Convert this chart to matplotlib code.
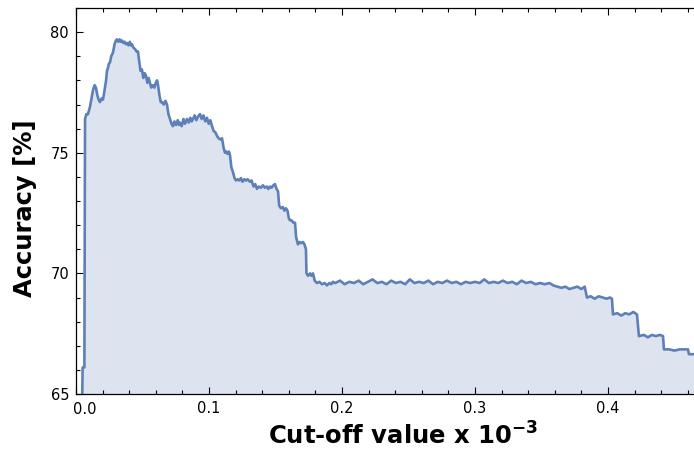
import numpy as np
import matplotlib
matplotlib.use('Agg')
import matplotlib.pyplot as plt
from matplotlib.ticker import MultipleLocator
import matplotlib.transforms as mtransforms

# cut-off value (x 10^-3) and accuracy (%)
cutoff = [
    0.0047, 0.0050, 0.0063, 0.0068, 0.0078, 0.0090, 0.0105, 0.0118, 0.0128, 0.0140,
    0.0150, 0.0160, 0.0170, 0.0180, 0.0192, 0.0203, 0.0215, 0.0226, 0.0233, 0.0240,
    0.0248, 0.0256, 0.0265, 0.0278, 0.0290, 0.0300, 0.0308, 0.0318, 0.0328, 0.0338,
    0.0346, 0.0356, 0.0365, 0.0375, 0.0383, 0.0395, 0.0405, 0.0413, 0.0421, 0.0432,
    0.0444, 0.0455, 0.0466, 0.0475, 0.0485, 0.0496, 0.0506, 0.0516, 0.0526, 0.0536,
    0.0546, 0.0556, 0.0566, 0.0579, 0.0590, 0.0600, 0.0610, 0.0617, 0.0627, 0.0637,
    0.0647, 0.0660, 0.0672, 0.0684, 0.0695, 0.0707, 0.0718, 0.0729, 0.0740, 0.0752,
    0.0765, 0.0775, 0.0782, 0.0795, 0.0808, 0.0820, 0.0835, 0.0848, 0.0860, 0.0870,
    0.0880, 0.0892, 0.0905, 0.0918, 0.0932, 0.0945, 0.0958, 0.0972, 0.0985, 0.0998,
    0.1010, 0.1023, 0.1035, 0.1048, 0.1060, 0.1072, 0.1085, 0.1098, 0.1110, 0.1120,
    0.1130, 0.1140, 0.1150, 0.1158, 0.1168, 0.1180, 0.1192, 0.1203, 0.1215, 0.1228,
    0.1240, 0.1252, 0.1265, 0.1278, 0.1290, 0.1308, 0.1320, 0.1335, 0.1348, 0.1361,
    0.1375, 0.1390, 0.1406, 0.1420, 0.1435, 0.1447, 0.1459, 0.1470, 0.1484, 0.1496,
    0.1508, 0.1519, 0.1528, 0.1541, 0.1555, 0.1567, 0.1579, 0.1590, 0.1600, 0.1609,
    0.1620, 0.1635, 0.1647, 0.1655, 0.1669, 0.1680, 0.1695, 0.1707, 0.1718, 0.1729,
    0.1733, 0.1745, 0.1760, 0.1770, 0.1782, 0.1795, 0.1812, 0.1830, 0.1850, 0.1870,
    0.1887, 0.1905, 0.1920, 0.1932, 0.1950, 0.1985, 0.2020, 0.2055, 0.2090, 0.2125,
    0.2160, 0.2195, 0.2230, 0.2265, 0.2300, 0.2335, 0.2370, 0.2405, 0.2440, 0.2475,
    0.2510, 0.2545, 0.2580, 0.2615, 0.2650, 0.2685, 0.2720, 0.2755, 0.2790, 0.2825,
    0.2860, 0.2895, 0.2930, 0.2965, 0.3000, 0.3035, 0.3070, 0.3105, 0.3140, 0.3175,
    0.3210, 0.3245, 0.3280, 0.3315, 0.3350, 0.3385, 0.3420, 0.3455, 0.3490, 0.3525,
    0.3560, 0.3590, 0.3620, 0.3650, 0.3680, 0.3710, 0.3740, 0.3770, 0.3800, 0.3825,
    0.3842, 0.3870, 0.3900, 0.3930, 0.3960, 0.3990, 0.4015, 0.4030, 0.4038, 0.4070,
    0.4100, 0.4130, 0.4160, 0.4190, 0.4218, 0.4233, 0.4270, 0.4300, 0.4330, 0.4360,
    0.4390, 0.4414, 0.4421, 0.4460, 0.4500, 0.4540, 0.4580, 0.4602, 0.4609, 0.4660,
]
accuracy = [
    65.0, 66.1, 66.1, 76.4, 76.6, 76.6, 76.9, 77.3, 77.6, 77.8,
    77.7, 77.4, 77.2, 77.1, 77.25, 77.2, 77.6, 78.0, 78.4, 78.5,
    78.7, 78.75, 79.0, 79.15, 79.5, 79.65, 79.7, 79.6, 79.7, 79.6,
    79.65, 79.55, 79.6, 79.5, 79.55, 79.45, 79.6, 79.45, 79.5, 79.35,
    79.3, 79.2, 79.2, 78.8, 78.4, 78.45, 78.1, 78.3, 78.2, 77.9,
    78.1, 77.9, 77.7, 77.8, 77.7, 77.9, 78.0, 77.8, 77.4, 77.1,
    77.1, 77.0, 77.15, 77.0, 76.6, 76.4, 76.2, 76.1, 76.3, 76.15,
    76.35, 76.15, 76.25, 76.1, 76.4, 76.2, 76.4, 76.25, 76.45, 76.3,
    76.4, 76.55, 76.35, 76.5, 76.6, 76.4, 76.55, 76.3, 76.45, 76.2,
    76.35, 76.1, 75.9, 75.85, 75.7, 75.6, 75.55, 75.6, 75.2, 75.0,
    75.05, 74.95, 75.05, 74.9, 74.4, 74.2, 73.95, 73.85, 73.9, 73.85,
    73.95, 73.8, 73.9, 73.85, 73.9, 73.8, 73.85, 73.6, 73.7, 73.5,
    73.6, 73.55, 73.65, 73.55, 73.6, 73.5, 73.6, 73.55, 73.65, 73.7,
    73.5, 73.4, 72.8, 72.7, 72.75, 72.6, 72.7, 72.6, 72.3, 72.2,
    72.2, 72.1, 72.1, 71.5, 71.2, 71.3, 71.25, 71.3, 71.2, 71.0,
    70.0, 69.9, 70.0, 69.9, 70.0, 69.7, 69.6, 69.65, 69.55, 69.6,
    69.5, 69.6, 69.55, 69.65, 69.6, 69.7, 69.55, 69.65, 69.6, 69.7,
    69.55, 69.65, 69.75, 69.6, 69.65, 69.55, 69.7, 69.6, 69.65, 69.55,
    69.75, 69.6, 69.65, 69.6, 69.7, 69.55, 69.65, 69.6, 69.7, 69.6,
    69.65, 69.55, 69.65, 69.6, 69.65, 69.6, 69.75, 69.6, 69.65, 69.6,
    69.7, 69.6, 69.65, 69.55, 69.7, 69.6, 69.65, 69.55, 69.6, 69.55,
    69.6, 69.5, 69.45, 69.4, 69.45, 69.35, 69.4, 69.45, 69.35, 69.45,
    69.0, 69.05, 68.95, 69.05, 69.0, 68.95, 69.0, 68.95, 68.3, 68.35,
    68.25, 68.35, 68.3, 68.4, 68.3, 67.4, 67.45, 67.35, 67.45, 67.4,
    67.45, 67.4, 66.85, 66.85, 66.8, 66.85, 66.85, 66.85, 66.65, 66.65,
]

x_ticks = [0.0, 0.1, 0.2, 0.3, 0.4]
y_ticks = [65, 70, 75, 80]

line_color = '#5d80b8'
fill_color = '#dee4ef'

fig = plt.figure(figsize=(6.94, 4.55), dpi=100)
ax = fig.add_axes([76 / 694, 1 - 394 / 455, 1 - 76 / 694, (394 - 8) / 455])

ax.fill_between(cutoff, accuracy, 65, color=fill_color, linewidth=0)
ax.plot(cutoff, accuracy, color=line_color, linewidth=1.9, solid_joinstyle='round')

ax.set_xlim(0.0, 0.4647)
ax.set_ylim(65, 81)

ax.set_xticks(x_ticks)
ax.set_xticklabels([''] + ['%.1f' % t for t in x_ticks[1:]])
ax.set_yticks(y_ticks)
ax.xaxis.set_minor_locator(MultipleLocator(0.02))
ax.yaxis.set_minor_locator(MultipleLocator(1))
ax.tick_params(which='both', direction='in', top=True, right=False,
               labelsize=10.5, color='black', width=0.8, pad=5)
ax.tick_params(which='major', length=5)
ax.tick_params(which='minor', length=3)
ax.spines['right'].set_visible(False)
for s in ['left', 'top', 'bottom']:
    ax.spines[s].set_linewidth(0.9)

# the 0.0 label sits a bit to the right of the frame
trans = mtransforms.blended_transform_factory(ax.transData, ax.transAxes)
ax.annotate('0.0', xy=(0.0, 0.0), xycoords=trans, xytext=(6, -6),
            textcoords='offset points', ha='center', va='top', fontsize=10.5)

ax.set_xlabel(r'Cut-off value x 10$^{\mathbf{-3}}$', fontsize=17.5, fontweight='bold')
ax.set_ylabel('Accuracy [%]', fontsize=17.5, fontweight='bold')
ax.xaxis.set_label_coords(0.529, -0.073)
ax.yaxis.set_label_coords(-0.063, 0.482)

fig.savefig('out.png', dpi=100)
